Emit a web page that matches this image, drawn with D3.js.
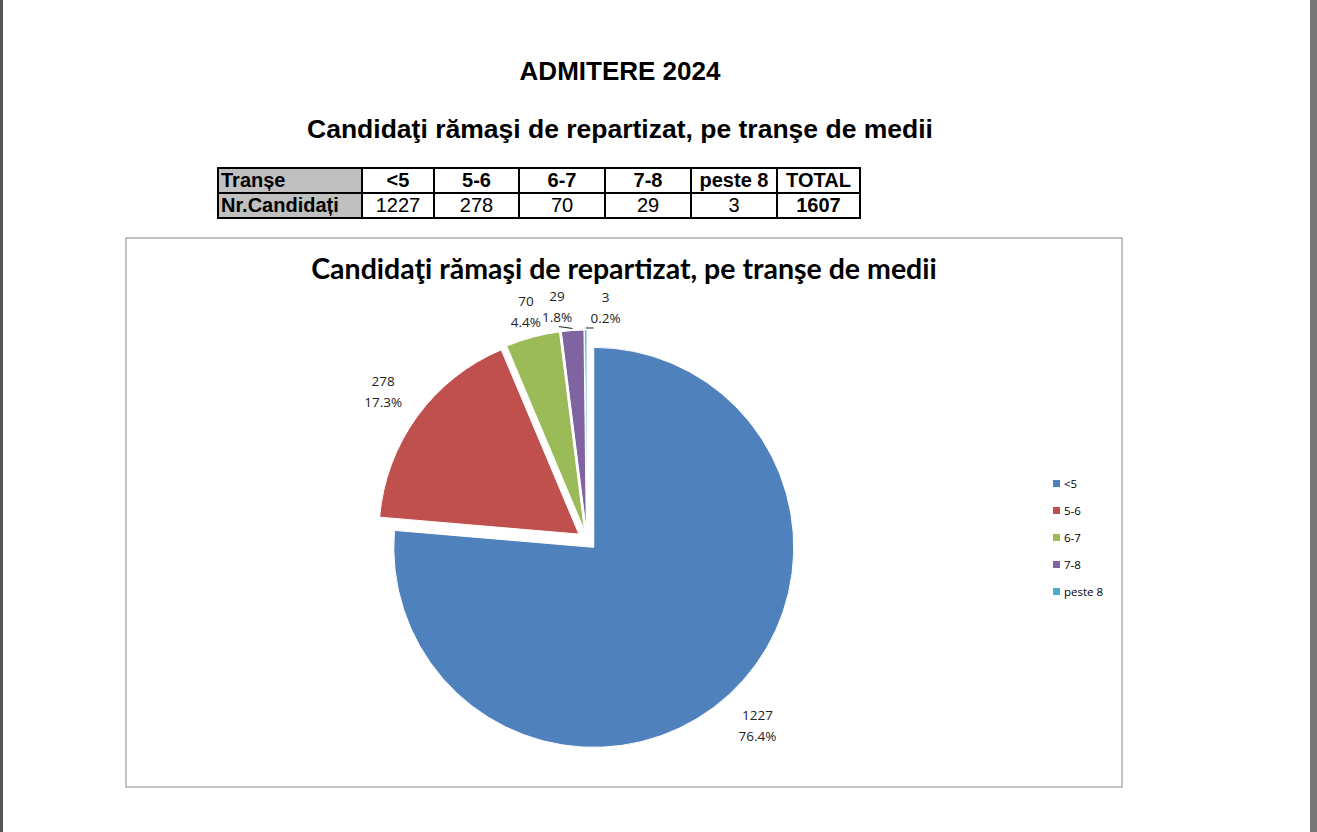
<!DOCTYPE html>
<html>
<head>
<meta charset="utf-8">
<style>
body{margin:0;background:#fff;}
</style>
</head>
<body>
<svg id="board" width="1317" height="832"></svg>
<script src="https://cdn.jsdelivr.net/npm/d3@7"></script>
<script>
// data
var categories = ['<5', '5-6', '6-7', '7-8', 'peste 8'];
var values = [1227, 278, 70, 29, 3];
var percents = ['76.4%', '17.3%', '4.4%', '1.8%', '0.2%'];
var total = 1607;
var colors = ['#4f81bd', '#c0504d', '#9bbb59', '#8064a2', '#4bacc6'];

var svg = d3.select('#board');

// page edges
svg.append('rect').attr('x',0).attr('y',0).attr('width',3).attr('height',832).attr('fill','#555');
svg.append('rect').attr('x',1310).attr('y',0).attr('width',7).attr('height',832).attr('fill','#777');

svg.append('text').attr('x',620).attr('y',80).attr('text-anchor','middle')
	.style('font','bold 26px "Liberation Sans", Arial').text('ADMITERE 2024');
svg.append('text').attr('x',620).attr('y',138).attr('text-anchor','middle')
	.style('font','bold 26.5px "Liberation Sans", Arial').text('Candidaţi rămaşi de repartizat, pe tranşe de medii');

// table
var colX = [218, 362, 434, 519, 605, 691, 777, 860];
var rowY = [168, 193, 218];
var rows = [
	['Tranșe'].concat(categories).concat(['TOTAL']),
	['Nr.Candidați'].concat(values.map(String)).concat([String(total)])
];
var tbl = svg.append('g');
rows.forEach(function(r, ri){
	r.forEach(function(t, ci){
		tbl.append('rect').attr('x',colX[ci]).attr('y',rowY[ri])
			.attr('width',colX[ci+1]-colX[ci]).attr('height',rowY[ri+1]-rowY[ri])
			.attr('fill', ci==0 ? '#c0c0c0' : '#fff').attr('stroke','#000').attr('stroke-width',2);
		var bold = ri==0 || ci==0 || ci==r.length-1;
		tbl.append('text')
			.attr('x', ci==0 ? colX[ci]+3 : (colX[ci]+colX[ci+1])/2)
			.attr('y', rowY[ri]+19)
			.attr('text-anchor', ci==0 ? 'start' : 'middle')
			.style('font', (bold ? 'bold ' : '') + '20px "Liberation Sans", Arial')
			.text(t);
	});
});

// chart frame
svg.append('rect').attr('x',126).attr('y',238).attr('width',996).attr('height',549)
	.attr('fill','#fff').attr('stroke','#888').attr('stroke-width',1);
svg.append('text').attr('x',624).attr('y',279).attr('text-anchor','middle')
	.style('font','bold 28.5px Lato, "Open Sans", sans-serif').text('Candidaţi rămaşi de repartizat, pe tranşe de medii');

var cx = 587, cy = 540, R = 200, explode = 10;
var labelR = [252, 252, 236, 234, 232];
var labelShift = [0, 0, 0, -14, 20];
var pie = d3.pie().sort(null).value(function(d){ return d; });
var arcs = pie(values);
var arc = d3.arc().innerRadius(0).outerRadius(R);
var g = svg.append('g').attr('transform','translate('+cx+','+cy+')');

function offset(d, r){
	var a = (d.startAngle + d.endAngle)/2;
	return [Math.sin(a)*r, -Math.cos(a)*r];
}

g.selectAll('path').data(arcs).enter().append('path')
	.attr('d', arc)
	.attr('transform', function(d){ var o = offset(d, explode); return 'translate('+o[0]+','+o[1]+')'; })
	.attr('fill', function(d,i){ return colors[i]; })
	.attr('stroke','#fff').attr('stroke-width',1);

arcs.forEach(function(d, i){
	var c = d3.arc().innerRadius(labelR[i]).outerRadius(labelR[i]).centroid(d);
	var x = c[0] + labelShift[i], y = c[1];
	var t = g.append('text').attr('text-anchor','middle')
		.style('font','13.5px "Open Sans", "DejaVu Sans", sans-serif').attr('fill','#222');
	t.append('tspan').attr('x',x).attr('y',y-6).text(values[i]);
	t.append('tspan').attr('x',x).attr('y',y+15).text(percents[i]);
	if (labelShift[i] != 0){
		var e = offset(d, R + explode + 2);
		g.append('line').attr('x1',e[0]).attr('y1',e[1]).attr('x2',x + (i==3 ? 2 : -12)).attr('y2',y+20)
			.attr('stroke','#222').attr('stroke-width',1);
	}
});

// legend
var leg = svg.append('g').attr('transform','translate(1053,480)');
categories.forEach(function(c, i){
	leg.append('rect').attr('x',0).attr('y',i*27).attr('width',7).attr('height',7).attr('fill',colors[i]);
	leg.append('text').attr('x',11).attr('y',i*27+8)
		.style('font','11.5px "Open Sans", "DejaVu Sans", sans-serif').text(c);
});
</script>
</body>
</html>
